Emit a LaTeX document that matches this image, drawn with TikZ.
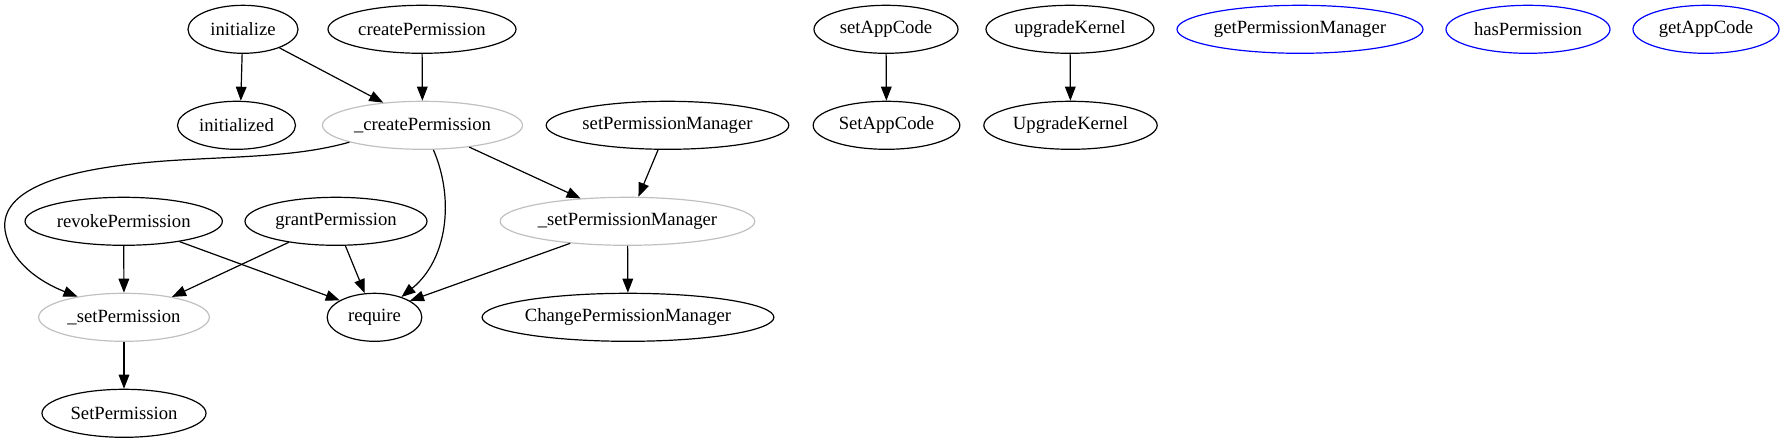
\documentclass[tikz,border=0pt]{standalone}
\usepackage{fontspec}
\setmainfont{Liberation Serif}
\usetikzlibrary{shapes.geometric,arrows.meta}
\definecolor{nodegray}{RGB}{192,192,192}
\begin{document}
\begin{tikzpicture}[x=0.75pt,y=-0.75pt,
  fn/.style={ellipse,draw=black,line width=0.9pt,inner sep=0pt,minimum height=36pt,
    font=\fontsize{14pt}{16pt}\selectfont},
  internal/.style={fn,draw=nodegray},
  viewfn/.style={fn,draw=blue},
  edge/.style={draw=black,line width=0.9pt,-{Triangle[length=10.5pt,width=8pt]}}]
\useasboundingbox (0,0) rectangle (1785,443);
% nodes
\node[fn,minimum width=82.5pt] (initialize) at (243,29.3) {initialize};
\node[fn,minimum width=141pt] (createPermission) at (422,29.3) {createPermission};
\node[fn,minimum width=88.5pt] (initialized) at (236.5,125.3) {initialized};
\node[internal,minimum width=150pt] (cP) at (422.5,125.3) {\_createPermission};
\node[fn,minimum width=182pt] (setPM) at (667.5,125.3) {setPermissionManager};
\node[fn,minimum width=148pt] (revoke) at (123.7,221.3) {revokePermission};
\node[fn,minimum width=136.5pt] (grant) at (336,221.3) {grantPermission};
\node[internal,minimum width=191pt] (sPM) at (627.5,221.3) {\_setPermissionManager};
\node[internal,minimum width=128pt] (sP) at (124,317.3) {\_setPermission};
\node[fn,minimum width=71pt] (require) at (374.5,317.3) {require};
\node[fn,minimum width=216pt] (changePM) at (628,317.3) {ChangePermissionManager};
\node[fn,minimum width=123pt] (SetPermission) at (124,413.3) {SetPermission};
\node[fn,minimum width=108pt] (setAppCode) at (886,29.3) {setAppCode};
\node[fn,minimum width=110pt] (SetAppCode) at (886.5,125.3) {SetAppCode};
\node[fn,minimum width=126pt] (upgradeKernel) at (1070,29.3) {upgradeKernel};
\node[fn,minimum width=130pt] (UpgradeKernel) at (1070.5,125.3) {UpgradeKernel};
\node[viewfn,minimum width=184.5pt] (getPM) at (1300,29.3) {getPermissionManager};
\node[viewfn,minimum width=123pt] (hasPermission) at (1528,29.3) {hasPermission};
\node[viewfn,minimum width=109.5pt] (getAppCode) at (1706,29.3) {getAppCode};
% edges
\draw[edge] (initialize.-92) -- (initialized.80);
\draw[edge] (initialize.-27.8) -- (cP.150.9);
\draw[edge] (createPermission) -- (cP);
\draw[edge] (cP.-167.1) .. controls (300,156) and (250,156) .. (180,160)
  .. controls (60,167) and (0,190) .. (5,230)
  .. controls (10,262) and (40,282) .. (sP.156.8);
\draw[edge] (cP.-66) .. controls (455,200) and (447,260) .. (require.37);
\draw[edge] (cP.-25.8) -- (sPM.154.2);
\draw[edge] (setPM.-111.6) -- (sPM.66.4);
\draw[edge] (sPM.-159.3) -- (require.25);
\draw[edge] (sPM) -- (changePM);
\draw[edge] (revoke) -- (sP);
\draw[edge] (revoke.-20.6) -- (require.154.4);
\draw[edge] (grant.-156.5) -- (sP.23.5);
\draw[edge] (grant.-69) -- (require.112.4);
\draw[edge] (sP) -- (SetPermission);
\draw[edge] (setAppCode) -- (SetAppCode);
\draw[edge] (upgradeKernel) -- (UpgradeKernel);
\end{tikzpicture}
\end{document}
